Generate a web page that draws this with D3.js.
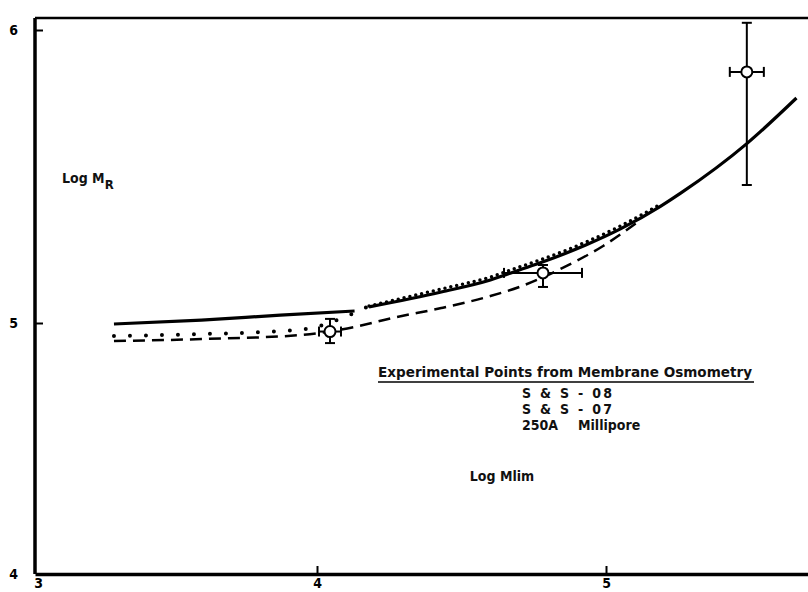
<!DOCTYPE html>
<html lang="en">
<head>
    <meta charset="UTF-8">
    <title>Log MR vs Log Mlim</title>
    <script src="https://d3js.org/d3.v7.min.js"></script>
    <style>
        body { margin: 0; background: #fff; }
        svg { display: block; font-family: "DejaVu Sans Condensed", "DejaVu Sans", sans-serif; font-stretch: condensed; }
        .tick-label { font-size: 14px; font-weight: bold; }
        .note { font-size: 14px; font-weight: bold; fill: #111; }
    </style>
</head>
<body>
    <script>
        // Curves: [log Mlim, log MR]
        const solidCurve = [
            [3.28, 4.996], [3.59, 5.010], [3.87, 5.027], [4.13, 5.041], null,
            [4.18, 5.055], [4.43, 5.106], [4.60, 5.147], [4.70, 5.181], [4.78, 5.208],
            [4.93, 5.266], [5.05, 5.321], [5.19, 5.399], [5.26, 5.444], [5.49, 5.614],
            [5.66, 5.768]
        ];
        const dottedCurve = [
            [3.28, 4.948], [3.59, 4.956], [3.87, 4.968], [3.98, 4.980], [4.08, 5.014],
            [4.18, 5.058], [4.43, 5.116], [4.60, 5.157], [4.70, 5.191], [4.78, 5.218],
            [4.93, 5.276], [5.05, 5.331], [5.19, 5.406]
        ];
        const dashedCurve = [
            [3.28, 4.928], [3.59, 4.936], [3.94, 4.952], [4.13, 4.984], [4.26, 5.017],
            [4.43, 5.051], [4.60, 5.092], [4.70, 5.123], [4.85, 5.188], [4.99, 5.263],
            [5.12, 5.352]
        ];

        // Experimental points (membrane osmometry) with error ranges
        const pointX = [4.045, 4.782, 5.488];
        const pointY = [4.966, 5.171, 5.857];
        const xLow = [4.007, 4.647, 5.429];
        const xHigh = [4.083, 4.917, 5.547];
        const yLow = [4.920, 5.123, 5.471];
        const yHigh = [5.014, 5.198, 6.024];

        const xTicks = [3, 4, 5];
        const yTicks = [4, 5, 6];
        const legendTitle = "Experimental Points from Membrane Osmometry";
        const legendRows = [["S & S - 08", ""], ["S & S - 07", ""], ["250A", "Millipore"]];

        const width = 808, height = 592;

        const svg = d3.select("body").append("svg")
            .attr("width", width)
            .attr("height", height);

        // the scanned axes are not quite even, so piecewise scales
        const x = d3.scaleLinear()
            .domain([3, 4, 5, 5.7])
            .range([35, 317, 606, 808]);
        const y = d3.scaleLinear()
            .domain([4, 5, 6, 6.04])
            .range([574, 323, 30, 18]);

        // top border of the frame
        svg.append("line")
            .attr("x1", x(3)).attr("x2", x(5.7))
            .attr("y1", y(6.04)).attr("y2", y(6.04))
            .attr("stroke", "#000").attr("stroke-width", 2.5);

        const xAxis = svg.append("g")
            .attr("transform", `translate(0,${y(4)})`)
            .call(d3.axisBottom(x).tickValues(xTicks).tickFormat(d3.format("d"))
                .tickSizeInner(-8).tickSizeOuter(0).tickPadding(4));
        const yAxis = svg.append("g")
            .attr("transform", `translate(${x(3)},0)`)
            .call(d3.axisLeft(y).tickValues(yTicks).tickFormat(d3.format("d"))
                .tickSizeInner(-8).tickSizeOuter(0).tickPadding(17));

        [xAxis, yAxis].forEach(g => {
            g.attr("font-family", null).attr("font-size", null);
            g.select(".domain").attr("stroke-width", 3.5);
            g.selectAll(".tick line").attr("stroke-width", 2);
            g.selectAll(".tick text").attr("class", "tick-label");
        });
        yAxis.select(".domain").attr("d", `M0,${y(4)}V${y(6.04)}`);
        xAxis.selectAll(".tick").filter(d => d === 3).select("line").remove();
        xAxis.selectAll(".tick").filter(d => d === 3).select("text").attr("dx", 3);
        yAxis.selectAll(".tick").filter(d => d === 4).select("line").remove();

        const line = d3.line()
            .defined(d => d !== null)
            .x(d => x(d[0]))
            .y(d => y(d[1]))
            .curve(d3.curveMonotoneX);

        svg.append("path")
            .datum(dashedCurve)
            .attr("d", line)
            .attr("fill", "none")
            .attr("stroke", "#000")
            .attr("stroke-width", 2.5)
            .attr("stroke-dasharray", "12 7");

        svg.append("path")
            .datum(solidCurve)
            .attr("d", line)
            .attr("fill", "none")
            .attr("stroke", "#000")
            .attr("stroke-width", 3.2);

        // dotted curve: sparse dots on the left, packed dots where it rides the solid line
        svg.append("path")
            .datum(dottedCurve.filter(d => d[0] <= 4.18))
            .attr("d", line)
            .attr("fill", "none")
            .attr("stroke", "#000")
            .attr("stroke-width", 4)
            .attr("stroke-linecap", "round")
            .attr("stroke-dasharray", "0 16");
        svg.append("path")
            .datum(dottedCurve.filter(d => d[0] >= 4.18))
            .attr("d", line)
            .attr("fill", "none")
            .attr("stroke", "#000")
            .attr("stroke-width", 3.5)
            .attr("stroke-linecap", "round")
            .attr("stroke-dasharray", "0 6");

        // error bars
        const pts = pointX.map((v, i) => ({
            x: v, y: pointY[i], x0: xLow[i], x1: xHigh[i], y0: yLow[i], y1: yHigh[i]
        }));
        const cap = 5;
        const bars = svg.append("g").selectAll("g")
            .data(pts)
            .join("g")
            .attr("stroke", "#000")
            .attr("stroke-width", 2);

        bars.append("line")
            .attr("x1", d => x(d.x)).attr("x2", d => x(d.x))
            .attr("y1", d => y(d.y0)).attr("y2", d => y(d.y1));
        bars.append("line")
            .attr("x1", d => x(d.x0)).attr("x2", d => x(d.x1))
            .attr("y1", d => y(d.y)).attr("y2", d => y(d.y));
        [d => y(d.y0), d => y(d.y1)].forEach(fy => {
            bars.append("line")
                .attr("x1", d => x(d.x) - cap).attr("x2", d => x(d.x) + cap)
                .attr("y1", fy).attr("y2", fy);
        });
        [d => x(d.x0), d => x(d.x1)].forEach(fx => {
            bars.append("line")
                .attr("x1", fx).attr("x2", fx)
                .attr("y1", d => y(d.y) - cap).attr("y2", d => y(d.y) + cap);
        });
        bars.append("circle")
            .attr("cx", d => x(d.x))
            .attr("cy", d => y(d.y))
            .attr("r", 5.5)
            .attr("fill", "#fff");

        // axis titles
        const yTitle = svg.append("text")
            .attr("class", "note")
            .attr("x", 62)
            .attr("y", 183);
        yTitle.append("tspan").text("Log M");
        yTitle.append("tspan").attr("dy", 6).attr("font-size", 13).text("R");

        svg.append("text")
            .attr("class", "note")
            .attr("x", 502)
            .attr("y", 481)
            .attr("text-anchor", "middle")
            .text("Log Mlim");

        // legend block
        const lg = svg.append("g").attr("transform", "translate(378,377)");
        lg.append("text")
            .attr("class", "note")
            .attr("textLength", 374)
            .attr("lengthAdjust", "spacingAndGlyphs")
            .text(legendTitle);
        lg.append("line")
            .attr("x1", 0).attr("x2", 376)
            .attr("y1", 5).attr("y2", 5)
            .attr("stroke", "#000").attr("stroke-width", 1.5);

        legendRows.forEach((r, i) => {
            const row = lg.append("text")
                .attr("class", "note")
                .attr("x", 144)
                .attr("y", 21 + i * 16)
                .text(r[0]);
            if (i < 2) row.attr("textLength", 90).attr("lengthAdjust", "spacing");
            lg.append("text")
                .attr("class", "note")
                .attr("x", 200)
                .attr("y", 21 + i * 16)
                .text(r[1]);
        });
    </script>
</body>
</html>
